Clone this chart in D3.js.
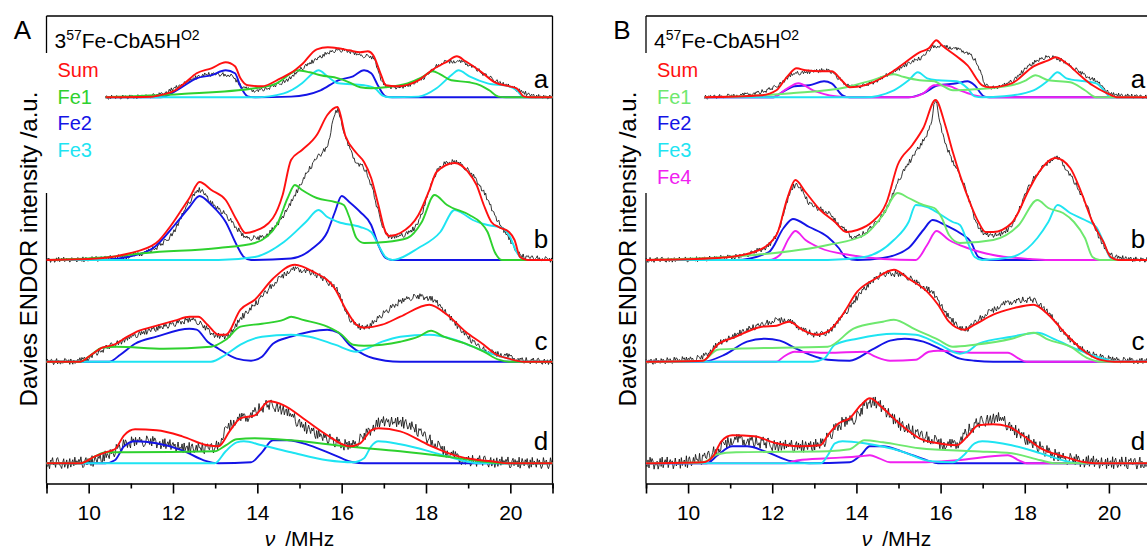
<!DOCTYPE html>
<html><head><meta charset="utf-8">
<script src="https://cdn.jsdelivr.net/npm/d3@7"></script>
<style>body{margin:0;background:#fff}svg text{font-family:"Liberation Sans",Arial,sans-serif}</style>
</head><body><svg id="c" width="1147" height="550"></svg>
<script>
// ---------------- data ----------------
const freqTicks = [10, 12, 14, 16, 18, 20];
const minorTicks = [9, 11, 13, 15, 17, 19, 21];
const spectrumLabels = ["a", "b", "c", "d"];
const baselineOffsets = [366, 203.3, 101.6, 0];   // a.u. offsets of a,b,c,d
const noiseAmpA = [2, 2.5, 3, 5.5];
const noiseAmpB = [2, 2.5, 3, 6];
const legendA = ["Sum", "Fe1", "Fe2", "Fe3"];
const legendB = ["Sum", "Fe1", "Fe2", "Fe3", "Fe4"];
const titleA = ["3", "57", "Fe-CbA5H", "O2"];
const titleB = ["4", "57", "Fe-CbA5H", "O2"];
const noiseDigits = "5820719364184730295672039486153095718264846201397527195860436038291574915746038243708256190684137295529107684378403591621523986470830612475939687150246175840293240769351896320581470481572936475930168273619048527";

// Panel A, spectrum a
const Aa_exp = [[10.4,0],[11.6,2],[12.04,9],[12.56,20],[12.9,23],[13.33,22],[13.5,17],[13.67,10],[13.94,7],[14.37,11],[14.8,20],[15.06,29],[15.4,38],[15.66,44],[15.92,47],[16.18,46],[16.44,42],[16.7,40],[16.79,36],[16.96,16],[17.13,10],[17.56,12],[17.99,21],[18.25,31],[18.6,36],[18.85,35],[19.1,31],[19.45,21],[19.8,14],[20.15,8],[20.5,2],[21,0]];
const Aa_sum = [[10.4,0],[11.5,0.5],[11.62,1.5],[12.05,7],[12.3,15],[12.56,24],[12.91,29],[13.25,35],[13.47,31],[13.6,19],[13.77,12],[14.1,11],[14.55,19],[14.89,27],[15.06,33],[15.41,48],[15.67,50],[15.92,49],[16.18,47],[16.44,45],[16.62,46],[16.75,42],[16.92,24],[17.05,12],[17.3,11],[17.82,17],[18.17,28],[18.51,36],[18.73,41],[18.94,36],[19.29,26],[19.63,15],[19.98,11],[20.15,9],[20.32,1],[20.5,0],[21,0]];
const Aa_fe1 = [[10.4,0],[12.2,3.3],[13.94,9],[14.46,14],[14.8,24],[14.93,27],[15.24,25],[15.5,22],[15.92,19],[16.18,15],[16.44,10],[16.7,9],[17.04,10],[17.56,14],[17.9,20],[18.16,26],[18.34,23],[18.6,17],[19.03,15],[19.29,12],[19.5,7],[19.72,0.7],[19.9,0],[21,0]];
const Aa_fe2 = [[10.4,0],[11.7,0],[12.2,10],[12.56,19],[12.9,22],[13.25,27],[13.47,24],[13.6,11],[13.77,1],[13.95,0],[14.8,0.7],[15.5,7],[15.92,17],[16.27,21],[16.53,27],[16.7,24],[16.87,11],[17.04,1],[17.2,0],[21,0]];
const Aa_fe3 = [[10.4,0],[13.94,0],[14.63,4],[15.06,14],[15.32,24],[15.45,27],[15.66,21],[15.92,14],[16.53,12],[16.79,9],[16.96,2],[17.13,0],[17.82,0.7],[18.25,9],[18.6,22],[18.77,27],[19.03,21],[19.46,14],[19.97,11],[20.15,7],[20.32,0],[21,0]];

// Panel A, spectrum b
const Ab_exp = [[9.0,0],[10.49,2],[11.35,8],[11.96,25],[12.39,58],[12.63,70],[12.91,57],[13.25,45],[13.51,32],[13.77,22],[14.03,22],[14.46,35],[14.8,58],[15.15,85],[15.41,102],[15.66,115],[15.9,150],[16.09,122],[16.35,98],[16.53,92],[16.7,75],[16.87,48],[17.04,28],[17.2,23],[17.56,27],[17.82,38],[18.08,70],[18.25,88],[18.68,98],[19.03,88],[19.37,68],[19.63,45],[19.97,22],[20.23,5],[20.58,2],[21,0]];
const Ab_sum = [[9.0,0],[10.0,1],[10.9,6],[11.6,17],[11.96,35],[12.2,50],[12.39,62],[12.63,78],[12.91,70],[13.25,60],[13.51,40],[13.72,27],[13.94,29],[14.37,42],[14.6,65],[14.8,100],[15.06,110],[15.41,125],[15.66,145],[15.9,153],[16.09,124],[16.35,107],[16.53,98],[16.7,82],[16.87,55],[17.04,28],[17.13,24],[17.39,27],[17.82,45],[18.08,70],[18.25,88],[18.68,97],[19.0,88],[19.2,75],[19.37,55],[19.55,38],[19.72,33],[19.97,28],[20.1,20],[20.23,3],[20.41,0],[21,0]];
const Ab_fe1 = [[9.03,0],[10.49,3],[11.35,7],[13.08,12],[13.94,17],[14.46,35],[14.72,62],[14.89,75],[15.06,70],[15.41,62],[15.84,58],[16.05,55],[16.18,43],[16.35,22],[16.53,17],[17.04,18],[17.56,22],[17.9,38],[18.2,65],[18.5,55],[19.03,45],[19.28,38],[19.46,28],[19.63,8],[19.8,0],[21,0]];
const Ab_fe2 = [[9.03,0],[10.3,0],[10.92,3],[11.53,12],[12.04,35],[12.39,53],[12.63,64],[12.91,55],[13.25,38],[13.51,15],[13.68,3],[13.85,0],[14.8,1.5],[15.32,12],[15.66,28],[15.84,48],[16.0,64],[16.18,58],[16.44,48],[16.7,35],[16.87,15],[17.04,2],[17.2,0],[21,0]];
const Ab_fe3 = [[9.03,0],[13.08,0],[13.94,3],[14.63,18],[15.15,38],[15.45,50],[15.66,43],[15.92,38],[16.44,33],[16.7,28],[16.87,15],[17.04,3],[17.2,0],[17.82,12],[18.34,28],[18.68,50],[18.85,47],[19.11,40],[19.46,35],[19.8,32],[19.97,25],[20.15,8],[20.32,0],[21,0]];

// Panel A, spectrum c
const Ac_exp = [[9.0,0],[9.8,1],[10.23,10],[10.75,20],[11.35,30],[12.04,38],[12.47,42],[12.73,35],[12.99,27],[13.25,25],[13.6,43],[13.94,57],[14.37,77],[14.89,92],[15.24,90],[15.66,80],[15.92,70],[16.09,50],[16.35,37],[16.53,34],[16.96,47],[17.39,60],[17.82,65],[18.16,62],[18.5,48],[18.94,27],[19.37,12],[19.8,7],[20.23,2],[21,0]];
const Ac_sum = [[9.0,0],[9.8,0],[10.06,7],[10.32,14],[10.6,17],[10.92,25],[11.2,31],[11.53,35],[12.04,41],[12.39,45],[12.6,45],[12.82,37],[13.08,27],[13.25,27],[13.6,52],[13.94,62],[14.37,83],[14.89,97],[15.32,90],[15.84,73],[16.09,53],[16.35,37],[16.53,34],[16.96,37],[17.39,45],[18.08,57],[18.5,47],[18.94,30],[19.37,17],[19.63,8],[19.97,3],[20.32,0],[21,0]];
const Ac_fe1 = [[9.0,0],[9.8,0],[10.06,7],[10.32,14],[10.66,15],[11.78,13],[12.9,15],[13.25,22],[13.6,35],[14.11,38],[14.63,42],[14.8,45],[15.06,42],[15.66,35],[16.0,27],[16.27,17],[16.53,16],[17.39,20],[17.82,25],[18.12,31],[18.42,25],[18.94,18],[19.37,10],[19.72,2],[19.97,0],[21,0]];
const Ac_fe2 = [[9.0,0],[10.49,0],[10.75,7],[11.1,18],[11.61,25],[12.39,33],[12.56,32],[12.82,20],[13.08,13],[13.51,3],[13.85,1],[14.11,5],[14.37,18],[14.8,25],[15.66,32],[15.92,29],[16.18,17],[16.53,7],[17.04,1],[17.39,0],[21,0]];
const Ac_fe3 = [[9.0,0],[12.9,0],[13.25,7],[13.6,17],[14.11,25],[14.8,27],[15.24,25],[15.84,17],[16.35,10],[16.53,12],[16.96,20],[17.39,25],[18.08,27],[18.68,22],[19.11,15],[19.54,8],[19.97,3],[20.23,0],[21,0]];

// Panel A, spectrum d
const Ad_exp = [[9.0,0],[10.06,2],[10.49,9],[10.92,20],[11.35,22],[11.96,18],[12.56,15],[12.99,16],[13.34,38],[13.77,47],[14.28,58],[14.63,53],[15.06,38],[15.66,25],[16.18,18],[16.53,27],[16.87,40],[17.3,42],[17.82,32],[18.25,18],[18.77,5],[19.37,2],[21,0]];
const Ad_sum = [[9.0,0],[9.8,0],[10.15,7],[10.4,11],[10.62,14],[10.84,28],[11.1,34],[11.61,33],[12.22,27],[12.82,18],[13.08,17],[13.34,32],[13.6,45],[13.94,48],[14.28,62],[14.63,58],[15.15,43],[15.66,28],[16.18,17],[16.44,20],[16.7,33],[16.87,35],[17.39,32],[18.08,18],[18.68,8],[19.11,4],[19.54,2],[19.97,0],[21,0]];
const Ad_fe1 = [[9.0,0],[9.8,0],[10.15,7],[10.4,11],[10.92,11],[12.99,12],[13.25,18],[13.51,24],[13.94,25],[14.8,23],[16.09,17],[17.39,12],[18.25,8],[19.11,3],[19.8,0],[21,0]];
const Ad_fe2 = [[9.0,0],[10.4,0],[10.62,3],[10.84,17],[11.1,22],[11.61,20],[12.22,13],[12.73,3],[13.08,0],[13.85,1],[14.11,11],[14.37,23],[14.72,23],[15.24,18],[15.84,8],[16.27,1],[16.53,0],[21,0]];
const Ad_fe3 = [[9.0,0],[12.99,0],[13.25,12],[13.51,21],[13.68,22],[14.11,18],[14.8,11],[15.66,3],[16.27,1],[16.53,5],[16.7,17],[16.87,22],[17.39,19],[18.25,10],[18.94,2],[19.28,0],[21,0]];

// Panel B, spectrum a
const Ba_exp = [[10.39,0],[11.57,4],[12.1,11],[12.45,22],[12.79,25],[13.32,27],[13.58,19],[13.84,11],[14.19,12],[14.72,22],[15.24,34],[15.59,41],[15.85,51],[16.03,51],[16.38,48],[16.72,42],[16.9,31],[17.07,12],[17.25,10],[17.69,16],[18.12,32],[18.56,40],[18.82,38],[19.17,29],[19.43,22],[19.7,16],[20.04,4],[20.66,1],[21,0]];
const Ba_sum = [[10.39,0],[11.75,2],[12.1,7],[12.36,21],[12.58,29],[12.79,27],[13.14,26],[13.41,26],[13.67,16],[13.84,10],[14.19,12],[14.72,22],[15.07,32],[15.5,45],[15.72,49],[15.9,57],[16.03,52],[16.38,41],[16.64,32],[16.99,12],[17.16,10],[17.69,14],[18.21,31],[18.56,37],[18.73,40],[18.99,34],[19.34,21],[19.61,12],[19.96,4],[20.22,0],[21,0]];
const Ba_fe1 = [[10.39,0],[12.45,4],[13.76,10],[14.37,17],[14.89,23],[15.07,21],[15.5,17],[15.85,16],[16.03,12],[16.29,7],[16.81,8],[17.69,12],[18.03,17],[18.25,22],[18.56,17],[19.08,15],[19.43,7],[19.7,0],[21,0]];
const Ba_fe2 = [[10.39,0],[12.01,0],[12.27,6],[12.53,11],[12.88,12],[13.23,16],[13.41,14],[13.67,2],[13.84,0],[15.24,0],[15.59,4],[15.94,12],[16.38,14],[16.64,16],[16.81,12],[17.03,1],[17.16,0],[21,0]];
const Ba_fe3 = [[10.39,0],[14.19,0],[14.89,7],[15.24,17],[15.46,25],[15.68,19],[15.94,17],[16.38,16],[16.64,9],[16.81,1],[16.99,0],[17.51,1],[18.21,7],[18.56,17],[18.78,25],[18.99,19],[19.43,16],[19.7,14],[19.9,6],[20.04,0],[21,0]];
const Ba_fe4 = [[10.39,0],[12.01,0],[12.36,9],[12.62,14],[12.97,7],[13.49,1],[13.84,0],[15.24,0],[15.59,4],[15.85,12],[16.11,12],[16.46,7],[16.81,2],[17.16,0],[21,0]];

// Panel B, spectrum b
const Bb_exp = [[9.0,0],[10.7,2],[11.57,8],[12.1,25],[12.45,70],[12.58,75],[12.88,57],[13.32,47],[13.67,32],[13.93,23],[14.37,33],[14.72,52],[15.07,85],[15.41,108],[15.76,135],[15.88,158],[16.03,128],[16.11,118],[16.29,98],[16.46,85],[16.64,65],[16.81,42],[16.99,28],[17.16,25],[17.69,35],[18.12,75],[18.56,98],[18.73,102],[19.08,85],[19.43,58],[19.78,22],[20.04,5],[21,0]];
const Bb_sum = [[9.0,0],[10.7,2],[11.57,8],[12.1,25],[12.36,62],[12.55,80],[12.79,68],[13.14,50],[13.49,38],[13.76,28],[14.02,30],[14.37,38],[14.72,58],[14.98,95],[15.33,115],[15.59,132],[15.88,160],[16.11,135],[16.29,108],[16.46,85],[16.72,55],[16.9,38],[17.07,28],[17.25,28],[17.69,37],[18.12,72],[18.34,88],[18.73,102],[19.08,92],[19.34,68],[19.61,38],[19.87,18],[20.04,3],[20.22,0],[21,0]];
const Bb_fe1 = [[9.0,0],[11.57,5],[13.32,15],[14.19,25],[14.63,45],[14.98,67],[15.24,62],[15.59,55],[15.85,52],[16.03,42],[16.2,25],[16.46,17],[17.25,20],[17.86,35],[18.3,60],[18.56,52],[18.91,47],[19.17,38],[19.43,22],[19.61,3],[19.78,0],[21,0]];
const Bb_fe2 = [[9.0,0],[11.14,0],[11.92,8],[12.27,32],[12.49,41],[12.88,33],[13.32,23],[13.58,12],[13.76,2],[14.02,0],[14.63,2],[15.24,12],[15.59,30],[15.81,40],[16.11,35],[16.46,27],[16.72,18],[16.9,3],[17.16,0],[21,0]];
const Bb_fe3 = [[9.0,0],[13.32,0],[14.19,3],[14.89,20],[15.24,38],[15.41,55],[15.68,53],[15.94,47],[16.29,38],[16.46,35],[16.64,18],[16.81,3],[16.99,0],[17.69,3],[18.3,22],[18.56,38],[18.78,55],[19.08,47],[19.43,40],[19.7,33],[19.87,18],[20.04,2],[20.22,0],[21,0]];
const Bb_fe4 = [[9.0,0],[11.92,0],[12.18,5],[12.4,22],[12.55,29],[12.79,20],[13.14,12],[13.84,5],[14.63,1],[15.41,0],[15.68,15],[15.9,29],[16.2,20],[16.64,12],[17.25,5],[18.12,1],[18.56,0],[21,0]];

// Panel B, spectrum c
const Bc_exp = [[9.0,0],[9.83,2],[10.35,5],[10.7,17],[11.14,27],[11.75,37],[12.27,42],[12.62,35],[13.06,27],[13.32,30],[13.76,50],[14.19,73],[14.72,88],[15.07,87],[15.5,77],[15.85,67],[16.11,50],[16.38,37],[16.55,32],[16.9,42],[17.25,52],[17.69,60],[18.12,62],[18.47,53],[18.91,30],[19.34,13],[19.78,5],[21,0]];
const Bc_sum = [[9.0,0],[10.35,1],[10.7,17],[11.14,25],[11.75,35],[12.1,36],[12.4,40],[12.71,32],[13.06,27],[13.32,30],[13.67,47],[14.02,70],[14.45,83],[14.89,92],[15.24,83],[15.68,70],[15.94,57],[16.2,40],[16.55,32],[16.81,37],[17.25,47],[17.69,53],[18.21,57],[18.56,47],[18.99,27],[19.43,10],[19.78,2],[20.13,0],[21,0]];
const Bc_fe1 = [[9.0,0],[10.35,1],[10.7,12],[11.14,13],[13.32,15],[13.93,33],[14.63,40],[14.89,42],[15.41,32],[15.94,22],[16.29,15],[16.81,17],[17.69,23],[18.21,29],[18.56,22],[19.08,15],[19.52,3],[19.78,0],[21,0]];
const Bc_fe2 = [[9.0,0],[10.35,0],[10.87,7],[11.4,20],[11.83,23],[12.18,21],[12.62,12],[13.32,2],[13.84,1],[14.37,12],[14.8,21],[15.15,23],[15.59,20],[16.03,12],[16.46,3],[16.81,1],[17.25,0],[21,0]];
const Bc_fe3 = [[9.0,0],[12.97,0],[13.23,3],[13.49,17],[14.02,23],[14.89,28],[15.41,27],[15.94,18],[16.46,8],[16.64,10],[16.9,18],[17.69,25],[18.3,29],[18.73,22],[19.26,12],[19.7,5],[20.04,1],[20.22,0],[21,0]];
const Bc_fe4 = [[9.0,0],[12.1,0],[12.27,5],[12.53,10],[13.32,9],[14.19,10],[14.45,5],[14.8,1],[15.41,2],[15.72,10],[15.94,11],[16.81,9],[17.6,9],[17.86,3],[18.04,0],[21,0]];

// Panel B, spectrum d
const Bd_exp = [[9.0,0],[9.83,1],[10.35,5],[10.7,13],[11.05,23],[11.57,22],[12.1,18],[12.79,17],[13.23,22],[13.58,38],[14.02,47],[14.32,62],[14.63,55],[15.07,38],[15.59,27],[16.29,18],[16.64,32],[16.9,40],[17.34,45],[17.69,35],[18.12,22],[18.73,8],[19.43,2],[21,0]];
const Bd_sum = [[9.0,0],[10.35,1],[10.61,8],[10.79,22],[11.05,28],[11.57,27],[12.1,20],[12.62,17],[13.14,18],[13.32,28],[13.58,40],[13.84,45],[14.1,58],[14.32,65],[14.63,55],[15.07,38],[15.5,25],[15.94,20],[16.38,18],[16.64,27],[16.9,38],[17.25,39],[17.6,37],[17.95,28],[18.38,15],[18.91,7],[19.43,1],[19.69,0],[21,0]];
const Bd_fe1 = [[9.0,0],[10.35,1],[10.7,9],[11.14,11],[13.32,12],[13.84,14],[14.19,23],[14.63,21],[15.5,15],[16.81,12],[17.69,10],[18.38,3],[18.73,0],[21,0]];
const Bd_fe2 = [[9.0,0],[10.44,0],[10.7,8],[11.05,17],[11.4,17],[11.83,12],[12.45,2],[12.88,0],[13.84,1],[14.1,8],[14.32,17],[14.63,17],[15.07,12],[15.68,3],[15.94,0],[21,0]];
const Bd_fe3 = [[9.0,0],[13.15,0],[13.32,8],[13.49,20],[13.67,22],[14.19,20],[15.07,12],[15.76,2],[16.29,1],[16.55,8],[16.81,20],[16.99,22],[17.69,18],[18.38,10],[18.91,3],[19.26,0],[21,0]];
const Bd_fe4 = [[9.0,0],[12.3,0],[12.62,3],[13.32,5],[14.1,7],[14.32,8],[14.54,5],[14.8,1],[15.5,1],[16.38,3],[17.6,8],[17.86,3],[18.04,0],[21,0]];

// ---------------- chart ----------------
const colors = {sum:"#ff1010", fe1A:"#2ed12e", fe1B:"#6ee86e", fe2:"#1414e6", fe3:"#1ee4f2", fe4:"#f020f0", exp:"#111"};
const svg = d3.select("#c");
const yScale = d3.scaleLinear().domain([0, 450]).range([463.3, 13.3]);
const axisY = 483.5;

function monotone(pts) {
  const n = pts.length, xs = pts.map(p => p[0]), ys = pts.map(p => p[1]);
  const d = [], m = new Array(n);
  for (let i = 0; i < n - 1; i++) d[i] = (ys[i+1] - ys[i]) / (xs[i+1] - xs[i]);
  m[0] = d[0]; m[n-1] = d[n-2];
  for (let i = 1; i < n - 1; i++) m[i] = d[i-1] * d[i] <= 0 ? 0 : (d[i-1] + d[i]) / 2;
  for (let i = 0; i < n - 1; i++) {
    if (d[i] === 0) { m[i] = 0; m[i+1] = 0; continue; }
    const a = m[i] / d[i], b = m[i+1] / d[i], s = a*a + b*b;
    if (s > 9) { const t = 3 / Math.sqrt(s); m[i] = t*a*d[i]; m[i+1] = t*b*d[i]; }
  }
  return x => {
    let i = Math.max(0, Math.min(n - 2, d3.bisectRight(xs, x) - 1));
    const h = xs[i+1] - xs[i], t = (x - xs[i]) / h, t2 = t*t, t3 = t2*t;
    return (2*t3 - 3*t2 + 1)*ys[i] + (t3 - 2*t2 + t)*h*m[i] + (-2*t3 + 3*t2)*ys[i+1] + (t3 - t2)*h*m[i+1];
  };
}

function drawPanel(cfg) {
  const x = d3.scaleLinear().domain([9, 21]).range(cfg.range);
  const g = svg.append("g");
  const fe1Color = cfg.fe1Color;
  const L = cfg.range[0], R = cfg.range[1];
  // frame
  g.append("line").attr("x1", L).attr("x2", R).attr("y1", 16).attr("y2", 16).attr("stroke", "#000").attr("stroke-width", 1.3);
  g.append("line").attr("x1", L).attr("x2", L).attr("y1", 16).attr("y2", 53).attr("stroke", "#000").attr("stroke-width", 1.3);
  g.append("line").attr("x1", L).attr("x2", L).attr("y1", 193).attr("y2", axisY).attr("stroke", "#000").attr("stroke-width", 1.3);
  if (cfg.rightBorder) g.append("line").attr("x1", R).attr("x2", R).attr("y1", 16).attr("y2", axisY).attr("stroke", "#000").attr("stroke-width", 1.3);
  // x axis
  const ax = g.append("g").attr("transform", `translate(0,${axisY})`)
    .call(d3.axisBottom(x).tickValues(freqTicks).tickSize(10).tickPadding(12).tickFormat(d3.format("d")));
  ax.select(".domain").attr("stroke-width", 1.6);
  ax.selectAll(".tick line").attr("stroke-width", 1.6);
  ax.selectAll("text").attr("font-size", 21).attr("font-family", '"Liberation Sans",Arial,sans-serif').attr("dy", "0.71em");
  const ax2 = g.append("g").attr("transform", `translate(0,${axisY})`)
    .call(d3.axisBottom(x).tickValues(minorTicks).tickSize(5).tickFormat(""));
  ax2.select(".domain").remove();
  ax2.selectAll(".tick line").attr("stroke-width", 1.6);
  // axis titles
  const xt = g.append("text").attr("x", (L + Math.min(R, 1147)) / 2).attr("y", 546).attr("text-anchor", "middle").attr("font-size", 21);
  xt.append("tspan").attr("font-style", "italic").text("ν");
  xt.append("tspan").attr("dx", 10).text("/MHz");
  g.append("text").attr("transform", `translate(${L - 10},249) rotate(-90)`).attr("text-anchor", "middle")
    .attr("font-size", 24).text("Davies ENDOR intensity /a.u.");
  g.append("text").attr("x", L - 24).attr("y", 39).attr("text-anchor", "middle").attr("font-size", 26).text(cfg.letter);
  // title
  const tt = g.append("text").attr("x", L + 8).attr("y", 48).attr("font-size", 21);
  tt.append("tspan").text(cfg.title[0]);
  tt.append("tspan").attr("dy", -8).attr("font-size", 14).text(cfg.title[1]);
  tt.append("tspan").attr("dy", 8).text(cfg.title[2]);
  tt.append("tspan").attr("dy", -8).attr("font-size", 14).text(cfg.title[3]);
  // legend
  const legColors = [colors.sum, fe1Color, colors.fe2, colors.fe3, colors.fe4];
  cfg.legend.forEach((t, i) => {
    g.append("text").attr("x", L + 11).attr("y", 77 + i * 26.7).attr("font-size", 20).attr("fill", legColors[i]).text(t);
  });
  // spectra
  const line = d3.line().x(d => x(d[0])).curve(d3.curveMonotoneX);
  cfg.spectra.forEach((s, k) => {
    const off = baselineOffsets[k];
    const ln = line.y(d => yScale(d[1] + off));
    // experimental trace: shape knots + typed jitter digits
    const f = monotone(s.exp);
    const v0 = s.exp[0][0], v1 = s.exp[s.exp.length - 1][0];
    const pts = [];
    const step = 0.024, ND = noiseDigits.length;
    for (let j = 0, v = v0; v <= v1 + 1e-9; j++, v = v0 + j * step) {
      const nd = +noiseDigits[(j + k * 53 + cfg.seed) % ND];
      pts.push([v, f(v) + (nd - 4.5) / 4.5 * cfg.noise[k]]);
    }
    g.append("path").datum(pts).attr("fill", "none").attr("stroke", colors.exp).attr("stroke-width", 0.85)
      .attr("d", d3.line().x(d => x(d[0])).y(d => yScale(d[1] + off)));
    const comps = [[s.fe2, colors.fe2], [s.fe4, colors.fe4], [s.fe3, colors.fe3], [s.fe1, fe1Color], [s.sum, colors.sum]];
    comps.forEach(([data, col]) => {
      if (!data) return;
      g.append("path").datum(data).attr("fill", "none").attr("stroke", col).attr("stroke-width", 1.9).attr("d", ln);
    });
    g.append("text").attr("x", cfg.labelX).attr("y", yScale(off) + cfg.labelDy[k]).attr("font-size", 26).attr("text-anchor", "middle").text(spectrumLabels[k]);
  });
}

drawPanel({
  range: [46.5, 552.5], rightBorder: true, letter: "A", title: titleA, legend: legendA,
  fe1Color: colors.fe1A, noise: noiseAmpA, seed: 0, labelX: 541, labelDy: [-9, -12, -12, -13],
  spectra: [
    {exp: Aa_exp, sum: Aa_sum, fe1: Aa_fe1, fe2: Aa_fe2, fe3: Aa_fe3},
    {exp: Ab_exp, sum: Ab_sum, fe1: Ab_fe1, fe2: Ab_fe2, fe3: Ab_fe3},
    {exp: Ac_exp, sum: Ac_sum, fe1: Ac_fe1, fe2: Ac_fe2, fe3: Ac_fe3},
    {exp: Ad_exp, sum: Ad_sum, fe1: Ad_fe1, fe2: Ad_fe2, fe3: Ad_fe3}
  ]
});
drawPanel({
  range: [646, 1151], rightBorder: false, letter: "B", title: titleB, legend: legendB,
  fe1Color: colors.fe1B, noise: noiseAmpB, seed: 101, labelX: 1138, labelDy: [-9, -12, -12, -13],
  spectra: [
    {exp: Ba_exp, sum: Ba_sum, fe1: Ba_fe1, fe2: Ba_fe2, fe3: Ba_fe3, fe4: Ba_fe4},
    {exp: Bb_exp, sum: Bb_sum, fe1: Bb_fe1, fe2: Bb_fe2, fe3: Bb_fe3, fe4: Bb_fe4},
    {exp: Bc_exp, sum: Bc_sum, fe1: Bc_fe1, fe2: Bc_fe2, fe3: Bc_fe3, fe4: Bc_fe4},
    {exp: Bd_exp, sum: Bd_sum, fe1: Bd_fe1, fe2: Bd_fe2, fe3: Bd_fe3, fe4: Bd_fe4}
  ]
});
</script></body></html>
